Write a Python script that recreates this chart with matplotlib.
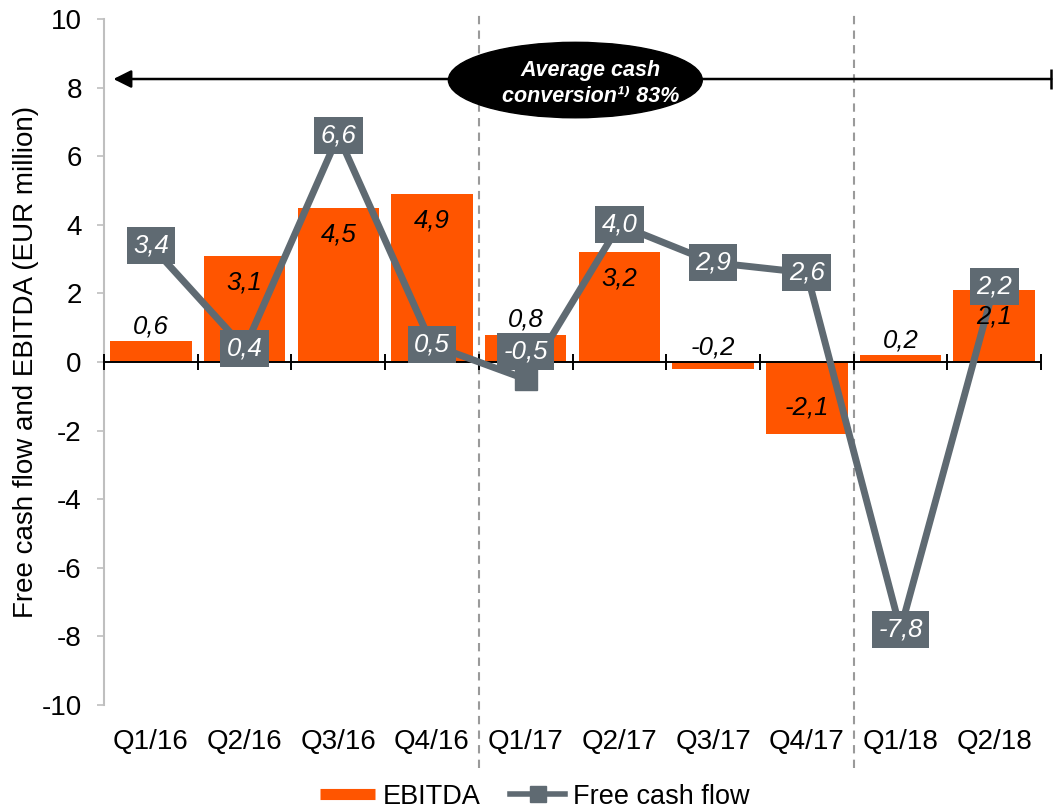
import numpy as np
import matplotlib.pyplot as plt
from matplotlib.lines import Line2D
from matplotlib.patches import Ellipse

plt.rcParams['font.family'] = ['Liberation Sans', 'DejaVu Sans']
plt.rcParams['axes.unicode_minus'] = False

quarters = ['Q1/16', 'Q2/16', 'Q3/16', 'Q4/16', 'Q1/17',
            'Q2/17', 'Q3/17', 'Q4/17', 'Q1/18', 'Q2/18']
ebitda = [0.6, 3.1, 4.5, 4.9, 0.8, 3.2, -0.2, -2.1, 0.2, 2.1]
fcf = [3.4, 0.4, 6.6, 0.5, -0.5, 4.0, 2.9, 2.6, -7.8, 2.2]
year_breaks = [3.5, 7.5]
conversion_text = 'Average cash\nconversion\u00b9\u207e 83%'

orange = '#ff5500'
grey = '#5f6a72'

fig = plt.figure(figsize=(10.53, 8.08), dpi=100)
ax = fig.add_axes([0.0988, 0.1275, 0.8898, 0.8490])

x = np.arange(len(quarters))
ax.bar(x, ebitda, width=0.87, color=orange, zorder=2)

# zero line with crossing ticks at the quarter boundaries
ax.axhline(0, color='black', lw=1.4, zorder=3)
bounds = np.arange(len(quarters) + 1) - 0.5
ax.plot(bounds, np.zeros_like(bounds), ls='none', marker='|', ms=12,
        mew=1.4, color='black', zorder=3, clip_on=False)

ax.plot(x, fcf, color=grey, lw=5, marker='s', ms=15.5, zorder=4)

# EBITDA value labels: inside the end of tall bars, above short ones
for xi, v in zip(x, ebitda):
    txt = f'{v:.1f}'.replace('.', ',')
    if abs(v) >= 1:
        off = -19 if v > 0 else 19
        ax.annotate(txt, (xi, v), xytext=(0, off), textcoords='offset points',
                    ha='center', va='center', fontsize=18.5, style='italic', zorder=5)
    else:
        ax.annotate(txt, (xi, max(v, 0)), xytext=(0, 10.5), textcoords='offset points',
                    ha='center', va='center', fontsize=18.5, style='italic', zorder=5)

# free cash flow labels in grey boxes
box_shift = {4: 20}
for i, (xi, v) in enumerate(zip(x, fcf)):
    txt = f'{v:.1f}'.replace('.', ',')
    ax.annotate(txt, (xi, v), xytext=(0, box_shift.get(i, 0)), textcoords='offset points',
                ha='center', va='center', fontsize=18.5, style='italic', color='white',
                zorder=6, bbox=dict(boxstyle='square,pad=0.25', fc=grey, ec='none'))

for xb in year_breaks:
    ax.axvline(xb, ymin=-0.092, ymax=1.006, color='#9a9a9a', lw=1.5,
               ls=(0, (4, 3)), zorder=1, clip_on=False)

# average conversion arrow spanning all quarters
ax.annotate('', xy=(-0.40, 8.25), xytext=(9.61, 8.25),
            arrowprops=dict(arrowstyle='-|>', color='black', lw=1.8,
                            mutation_scale=27, shrinkA=0, shrinkB=0),
            annotation_clip=False, zorder=7)
ax.plot([9.61], [8.25], marker='|', ms=14, mew=1.8, color='black',
        clip_on=False, zorder=7)
ax.add_patch(Ellipse((4.53, 8.22), 2.71, 2.2, color='black', zorder=8))
ax.text(4.69, 8.13, conversion_text, ha='center', va='center', fontsize=15.5,
        color='white', weight='bold', style='italic', linespacing=1.3, zorder=9)

ax.set_xlim(-0.5, 9.5)
ax.set_ylim(-10, 10)
ax.set_yticks(np.arange(-10, 11, 2))
ax.set_xticks(x)
ax.set_xticklabels(quarters)
ax.tick_params(axis='x', length=0, pad=17, labelsize=20)
ax.tick_params(axis='y', length=5, width=1.2, color='#bfbfbf', labelsize=20, pad=11)
for side in ['top', 'right', 'bottom']:
    ax.spines[side].set_visible(False)
ax.spines['left'].set_color('#bfbfbf')
ax.spines['left'].set_linewidth(1.5)
ax.set_ylabel('Free cash flow and EBITDA (EUR million)', fontsize=20, labelpad=2)

handles = [Line2D([], [], color=orange, lw=8, solid_capstyle='butt'),
           Line2D([], [], color=grey, lw=4, marker='s', ms=11)]
fig.legend(handles, ['EBITDA', 'Free cash flow'], loc='center',
           bbox_to_anchor=(0.508, 0.014), ncol=2, frameon=False, fontsize=19.5,
           handlelength=2.0, handletextpad=0.3, columnspacing=1.1)

fig.savefig('out.png', dpi=100)
